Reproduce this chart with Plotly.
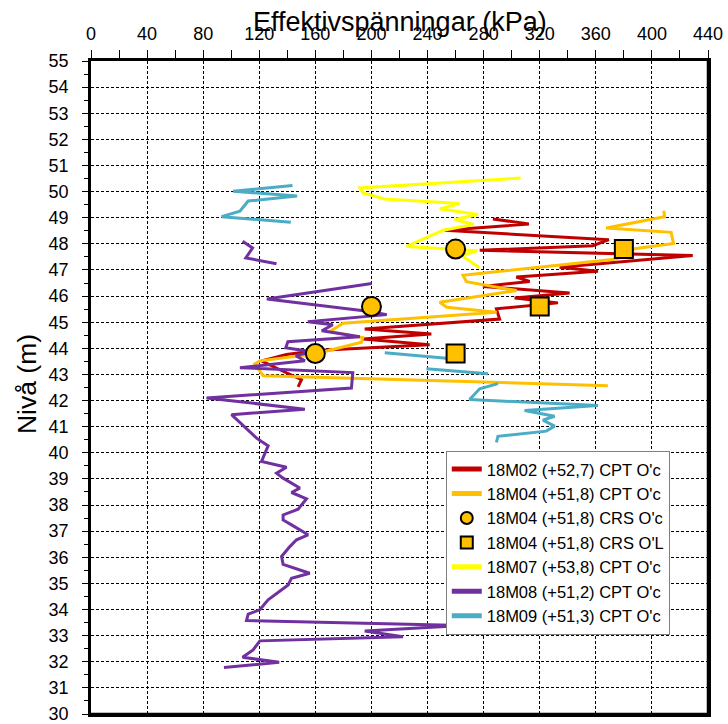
import plotly.graph_objects as go

# ---- data (kPa, level m) ----
m02_x = [286.6, 312.3, 252.2, 369.3, 357.9, 277.2, 429.1, 334.2, 361.5, 303.3, 312.8, 279.5, 341.3,
         302.1, 333.0, 289.1, 291.4, 195.2, 242.7, 194.0, 241.5, 160.8, 139.4, 121.6, 134.7, 150.1, 147.7]
m02_y = [48.95, 48.76, 48.52, 48.16, 47.93, 47.75, 47.55, 47.10, 46.95, 46.73, 46.56, 46.37, 46.12,
         45.93, 45.74, 45.51, 45.12, 44.74, 44.55, 44.36, 44.14, 43.92, 43.76, 43.52, 43.18, 42.80, 42.52]

m04_x = [408.5, 409.0, 367.4, 413.7, 415.4, 387.6, 374.8, 265.3, 267.7, 303.5, 248.7, 253.7, 289.3,
         179.8, 170.3, 193.8, 192.9, 160.3, 120.4, 116.8, 122.8, 368.6]
m04_y = [49.27, 49.04, 48.61, 48.44, 48.01, 47.81, 47.42, 46.80, 46.55, 46.21, 45.76, 45.57, 45.38,
         44.96, 44.64, 44.41, 44.23, 43.79, 43.52, 43.40, 42.95, 42.57]

crs_oc_x = [260, 200, 160]
crs_oc_y = [47.8, 45.6, 43.8]
crs_ol_x = [380, 320, 260]
crs_ol_y = [47.8, 45.6, 43.8]

m07_x = [306.4, 191.7, 194.0, 209.5, 262.9, 248.7, 276.0, 259.4, 272.9, 251.0, 225.0, 275.7, 264.3, 277.2]
m07_y = [50.52, 50.14, 49.95, 49.72, 49.54, 49.34, 49.12, 48.93, 48.74, 48.52, 47.90, 47.74, 47.55, 47.08]

m08_x = [108.1, 115.2, 110.4, 132.3, None,
         200.2, 125.4, 198.8, 210.9, 154.6, 172.4, 164.6, 191.7, 140.4, 138.9, 157.5, 146.1, 152.5,
         106.2, 186.7, 185.7, 82.4, 152.5, 100.2, 118.1, 121.6, 126.3, 121.6, 139.4, 132.3, 137.0,
         148.9, 143.0, 153.7, 147.7, 137.0, 137.0, 143.0, 154.8, 146.6, 141.8, 135.9, 137.0, 156.0,
         143.0, 140.6, 132.3, 126.3, 120.4, 112.1, 110.9, 265.3, 195.2, 222.5, 120.4, 115.6, 108.1,
         134.2, 94.8]
m08_y = [48.10, 47.84, 47.46, 47.24, None,
         46.48, 45.89, 45.41, 45.29, 45.02, 44.90, 44.67, 44.44, 44.25, 44.02, 43.87, 43.72, 43.52,
         43.26, 43.07, 42.48, 42.10, 41.67, 41.46, 40.56, 40.43, 40.27, 39.67, 39.45, 39.22, 39.03,
         38.65, 38.48, 38.24, 37.84, 37.62, 37.43, 37.24, 36.86, 36.67, 36.41, 36.03, 35.73, 35.39,
         35.20, 34.94, 34.62, 34.37, 33.99, 33.82, 33.58, 33.39, 33.18, 32.96, 32.80, 32.45, 32.17,
         31.98, 31.78]

m09_x = [143.7, 101.4, 147.0, 112.1, 106.2, 93.1, 142.5, None,
         209.5, 253.4, None,
         239.2, 283.1, None,
         290.2, 277.2, 270.0, 361.5, 309.2, 330.6, 322.3, 330.6, 324.7, 290.2, 289.1]
m09_y = [50.23, 50.01, 49.83, 49.64, 49.25, 49.04, 48.83, None,
         43.83, 43.62, None,
         43.22, 43.03, None,
         42.65, 42.45, 42.04, 41.81, 41.62, 41.40, 41.25, 41.02, 40.83, 40.63, 40.40]

names = ["18M02 (+52,7) CPT O'c", "18M04 (+51,8) CPT O'c", "18M04 (+51,8) CRS O'c",
         "18M04 (+51,8) CRS O'L", "18M07 (+53,8) CPT O'c", "18M08 (+51,2) CPT O'c",
         "18M09 (+51,3) CPT O'c"]

FONT = "Liberation Sans, Arial, sans-serif"

fig = go.Figure()
lines = [(m02_x, m02_y, "#C00000", 0), (m04_x, m04_y, "#FFC000", 1),
         (m07_x, m07_y, "#FFFF00", 4), (m08_x, m08_y, "#7030A0", 5),
         (m09_x, m09_y, "#4BACC6", 6)]
for xs, ys, col, idx in lines:
    fig.add_trace(go.Scatter(x=xs, y=ys, mode="lines", name=names[idx], legendrank=idx + 1,
                             line=dict(color=col, width=3), connectgaps=False))

fig.add_trace(go.Scatter(x=crs_oc_x, y=crs_oc_y, mode="markers", name=names[2], legendrank=3,
                         marker=dict(symbol="circle", size=19, color="#FFC000",
                                     line=dict(color="black", width=2))))
fig.add_trace(go.Scatter(x=crs_ol_x, y=crs_ol_y, mode="markers", name=names[3], legendrank=4,
                         marker=dict(symbol="square", size=18, color="#FFC000",
                                     line=dict(color="black", width=2))))

fig.update_layout(
    width=728, height=724,
    margin=dict(l=91, r=20, t=61, b=10, autoexpand=False),
    paper_bgcolor="white", plot_bgcolor="white",
    font=dict(family=FONT, size=18, color="black"),
    showlegend=True,
    legend=dict(x=0.575, y=0.403, xanchor="left", yanchor="top",
                bgcolor="white", bordercolor="#7f7f7f", borderwidth=1,
                font=dict(family=FONT, size=16.5, color="black"),
                itemsizing="constant", traceorder="normal"),
    xaxis=dict(side="top", range=[0, 440], tick0=0, dtick=40, showgrid=True,
               gridcolor="black", gridwidth=1, griddash="3px,2px",
               showline=True, linecolor="black", linewidth=2.5, mirror=True,
               ticks="outside", ticklen=8, tickcolor="black", ticklabelstandoff=3,
               ticklabeloverflow="allow",
               minor=dict(dtick=20, ticks="outside", ticklen=8, tickcolor="black", showgrid=False),
               zeroline=False, automargin=False, tickfont=dict(size=18)),
    yaxis=dict(range=[30, 55], tick0=30, dtick=1, showgrid=True,
               gridcolor="black", gridwidth=1, griddash="3px,2px",
               showline=True, linecolor="black", linewidth=2.5, mirror=True,
               ticks="outside", ticklen=6, tickcolor="black", ticklabelstandoff=10,
               ticklabeloverflow="allow",
               minor=dict(dtick=0.5, ticks="outside", ticklen=4, tickcolor="black", showgrid=False),
               zeroline=False, automargin=False, tickfont=dict(size=18)),
    shapes=[
        dict(type="line", xref="paper", yref="paper", x0=1, x1=1, y0=0, y1=1,
             line=dict(color="black", width=2.5), layer="above"),
        dict(type="line", xref="paper", yref="paper", x0=0, x1=1, y0=0, y1=0,
             line=dict(color="black", width=2.5), layer="above"),
    ],
    annotations=[
        dict(text="Effektivspänningar (kPa)", xref="paper", yref="paper", x=0.5, y=1.06,
             xanchor="center", yanchor="middle", showarrow=False, font=dict(size=27)),
        dict(text="Nivå (m)", xref="paper", yref="paper", x=-0.104, y=0.505, textangle=-90,
             xanchor="center", yanchor="middle", showarrow=False, font=dict(size=26.5)),
    ],
)

# remove the default page margin so the figure sits at the window's top-left corner
fig.write_html("out.html", config={"displayModeBar": False},
               post_script="document.body.style.margin='0';document.body.style.overflow='hidden';")
